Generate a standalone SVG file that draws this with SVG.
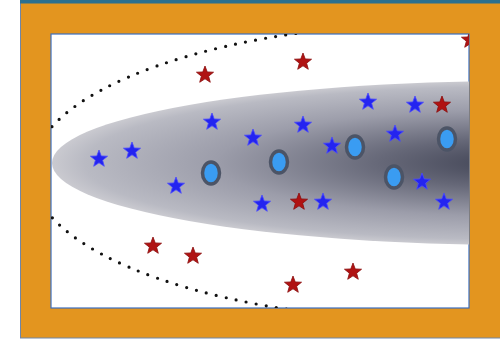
<svg xmlns="http://www.w3.org/2000/svg" xmlns:xlink="http://www.w3.org/1999/xlink" width="500" height="340" viewBox="0 0 500 340">
  <style>
    .blue { fill: #2424f0; stroke: #4a4aff; stroke-width: 0.8; }
    .red { fill: #b01212; stroke: #8a0c0c; stroke-width: 0.8; }
    .ring { fill: #3a9cf2; stroke: #4c5466; stroke-width: 3.5; }
    .dots { fill: none; stroke: #111; stroke-width: 3.2; stroke-linecap: round; stroke-dasharray: 0 10.2; }
  </style>
  <defs>
    <path id="star" d="M0,-9 L2.23,-3.07 L8.56,-2.78 L3.61,1.17 L5.29,7.28 L0,3.8 L-5.29,7.28 L-3.61,1.17 L-8.56,-2.78 L-2.23,-3.07 Z"/>
    <radialGradient id="cloud" cx="0.5" cy="0.5" r="0.5">
      <stop offset="0" stop-color="#3e4152"/>
      <stop offset="0.3" stop-color="#666878"/>
      <stop offset="0.65" stop-color="#9c9daa"/>
      <stop offset="0.93" stop-color="#b9bac3"/>
      <stop offset="1" stop-color="#cacad0"/>
    </radialGradient>
    <clipPath id="inner">
      <rect x="51" y="34" width="418" height="274"/>
    </clipPath>
  </defs>

  <g id="frame">
    <rect x="20.5" y="0" width="480" height="338" fill="#e3951f" stroke="#6f86a8" stroke-width="1"/>
    <rect x="20" y="0" width="480" height="3.5" fill="#2a7090"/>
    <rect x="51" y="34" width="418" height="274" fill="#ffffff" stroke="#3b6fc0" stroke-width="1.2"/>
  </g>

  <g id="regions" clip-path="url(#inner)">
    <ellipse id="cloud-region" cx="520" cy="163" rx="468" ry="82" fill="url(#cloud)"/>
    <ellipse id="dotted-boundary" class="dots" cx="459" cy="172" rx="427" ry="150"/>
  </g>

  <g id="nodes" clip-path="url(#inner)">
    <g id="circles">
      <ellipse id="c1" class="ring" cx="211" cy="173" rx="8.5" ry="11"/>
      <ellipse id="c2" class="ring" cx="279" cy="162" rx="8.5" ry="11"/>
      <ellipse id="c3" class="ring" cx="355" cy="147" rx="8.5" ry="11"/>
      <ellipse id="c4" class="ring" cx="394" cy="177" rx="8.5" ry="11"/>
      <ellipse id="c5" class="ring" cx="447" cy="139" rx="8.5" ry="11"/>
    </g>
    <g id="blue-stars">
      <use id="b1" class="blue" xlink:href="#star" href="#star" x="99" y="159"/>
      <use id="b2" class="blue" xlink:href="#star" href="#star" x="132" y="151"/>
      <use id="b3" class="blue" xlink:href="#star" href="#star" x="176" y="186"/>
      <use id="b4" class="blue" xlink:href="#star" href="#star" x="212" y="122"/>
      <use id="b5" class="blue" xlink:href="#star" href="#star" x="253" y="138"/>
      <use id="b6" class="blue" xlink:href="#star" href="#star" x="303" y="125"/>
      <use id="b7" class="blue" xlink:href="#star" href="#star" x="262" y="204"/>
      <use id="b8" class="blue" xlink:href="#star" href="#star" x="323" y="202"/>
      <use id="b9" class="blue" xlink:href="#star" href="#star" x="332" y="146"/>
      <use id="b10" class="blue" xlink:href="#star" href="#star" x="368" y="102"/>
      <use id="b11" class="blue" xlink:href="#star" href="#star" x="395" y="134"/>
      <use id="b12" class="blue" xlink:href="#star" href="#star" x="415" y="105"/>
      <use id="b13" class="blue" xlink:href="#star" href="#star" x="422" y="182"/>
      <use id="b14" class="blue" xlink:href="#star" href="#star" x="444" y="202"/>
    </g>
    <g id="red-stars">
      <use id="r1" class="red" xlink:href="#star" href="#star" x="205" y="75"/>
      <use id="r2" class="red" xlink:href="#star" href="#star" x="303" y="62"/>
      <use id="r3" class="red" xlink:href="#star" href="#star" x="442" y="105"/>
      <use id="r4" class="red" xlink:href="#star" href="#star" x="299" y="202"/>
      <use id="r5" class="red" xlink:href="#star" href="#star" x="153" y="246"/>
      <use id="r6" class="red" xlink:href="#star" href="#star" x="193" y="256"/>
      <use id="r7" class="red" xlink:href="#star" href="#star" x="293" y="285"/>
      <use id="r8" class="red" xlink:href="#star" href="#star" x="353" y="272"/>
      <use id="r9" class="red" xlink:href="#star" href="#star" x="470" y="40"/>
    </g>
  </g>
</svg>
